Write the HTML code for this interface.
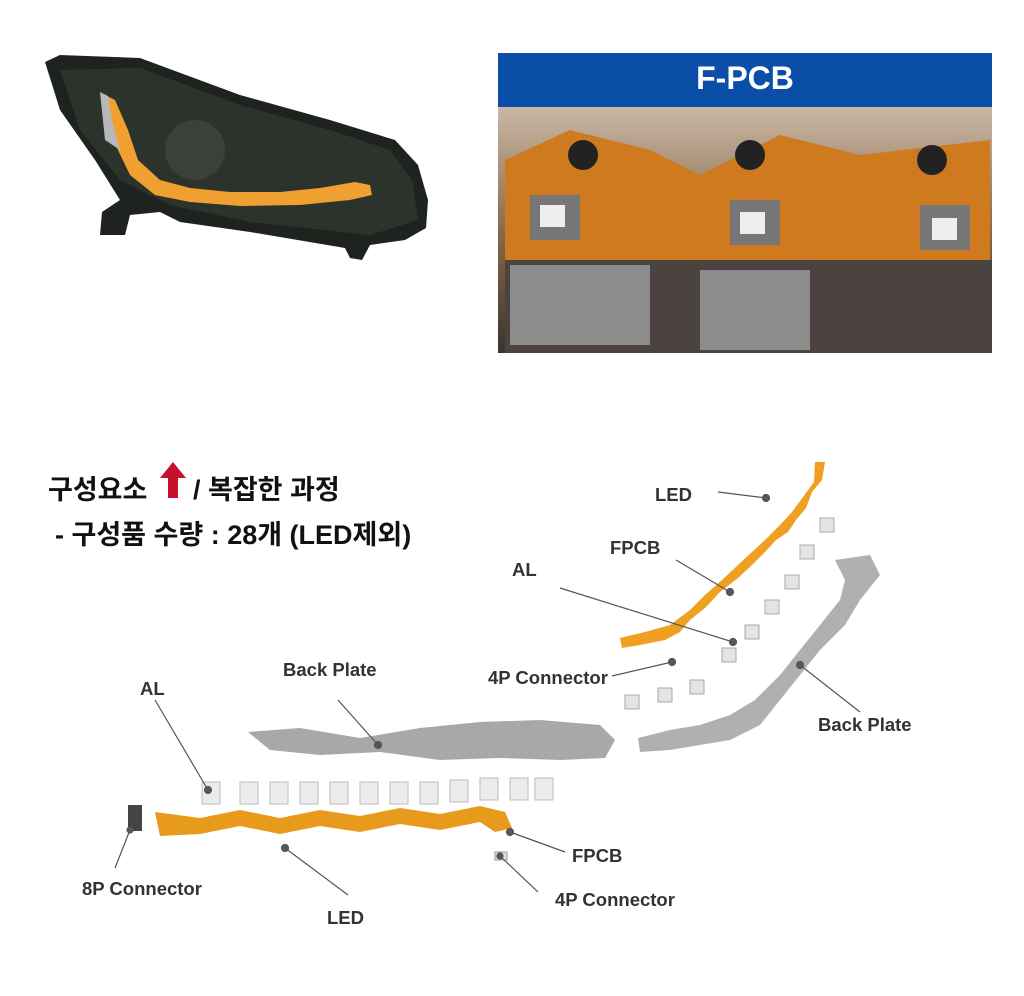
<!DOCTYPE html>
<html><head><meta charset="utf-8"><style>
html,body{margin:0;padding:0;background:#fff;}
body{width:1024px;height:996px;position:relative;overflow:hidden;font-family:"Liberation Sans","Noto Sans CJK KR",sans-serif;}
.t{position:absolute;font-weight:bold;color:#111;white-space:nowrap;}
.l{font-size:18.5px;color:#333;}
</style></head><body>
<svg width="1024" height="996" style="position:absolute;left:0;top:0">
<defs>
<linearGradient id="ph" x1="0" y1="0" x2="0" y2="1"><stop offset="0" stop-color="#c9b8a6"/><stop offset="0.5" stop-color="#8a6a4a"/><stop offset="1" stop-color="#3a3430"/></linearGradient>
</defs>
<path d="M45,62 L60,55 L140,58 L240,95 L330,120 L395,140 L418,165 L428,200 L426,228 L405,240 L370,245 L362,260 L350,258 L345,248 L250,232 L180,222 L160,212 L130,215 L125,235 L100,235 L102,212 L120,200 L95,160 L60,110 Z" fill="#1f231f"/>
<path d="M60,70 L140,68 L240,105 L330,130 L390,150 L412,180 L418,220 L370,235 L250,222 L170,205 L120,180 L80,130 Z" fill="#2c322c"/>
<circle cx="195" cy="150" r="30" fill="#3a403a"/>
<path d="M105,95 L115,100 L128,130 L138,160 L160,180 L190,188 L230,192 L280,192 L320,188 L355,182 L370,185 L372,195 L350,200 L300,205 L240,206 L190,202 L155,195 L130,175 L118,150 L108,120 Z" fill="#f0a030"/>
<path d="M100,92 L108,96 L112,120 L120,150 L105,140 Z" fill="#b8b8b8"/>
<rect x="498" y="53" width="494" height="54" fill="#0a4ea8"/>
<rect x="498" y="107" width="494" height="246" fill="url(#ph)"/>
<path d="M505,160 L570,130 L650,150 L700,175 L780,135 L860,155 L990,140 L990,260 L860,275 L780,280 L700,275 L620,270 L505,260 Z" fill="#d07a20"/>
<rect x="505" y="260" width="487" height="93" fill="#4a4340"/>
<rect x="510" y="265" width="140" height="80" fill="#8c8c8c"/>
<rect x="700" y="270" width="110" height="80" fill="#8c8c8c"/>
<rect x="530" y="195" width="50" height="45" fill="#777"/><rect x="540" y="205" width="25" height="22" fill="#eee"/>
<rect x="730" y="200" width="50" height="45" fill="#777"/><rect x="740" y="212" width="25" height="22" fill="#eee"/>
<rect x="920" y="205" width="50" height="45" fill="#777"/><rect x="932" y="218" width="25" height="22" fill="#eee"/>
<circle cx="583" cy="155" r="15" fill="#222"/><circle cx="750" cy="155" r="15" fill="#222"/><circle cx="932" cy="160" r="15" fill="#222"/>
<path d="M815,462 L825,462 L822,480 L812,492 L806,508 L796,520 L788,532 L776,540 L765,552 L752,565 L738,578 L720,592 L705,608 L690,620 L680,632 L665,640 L640,645 L622,648 L620,638 L645,632 L670,625 L690,610 L705,595 L722,580 L738,565 L752,552 L765,540 L780,525 L792,512 L803,497 L814,482 Z" fill="#f0a020"/>
<g fill="#e4e4e4" stroke="#aaa" stroke-width="1">
<rect x="820" y="518" width="14" height="14"/><rect x="800" y="545" width="14" height="14"/><rect x="785" y="575" width="14" height="14"/><rect x="765" y="600" width="14" height="14"/><rect x="745" y="625" width="14" height="14"/><rect x="722" y="648" width="14" height="14"/><rect x="690" y="680" width="14" height="14"/><rect x="658" y="688" width="14" height="14"/><rect x="625" y="695" width="14" height="14"/>
</g>
<path d="M835,560 L870,555 L880,575 L860,600 L845,625 L820,650 L800,675 L780,700 L760,725 L730,740 L700,745 L670,750 L640,752 L638,738 L670,730 L700,725 L730,715 L755,700 L780,675 L800,650 L820,625 L840,600 L845,580 Z" fill="#b0b0b0"/>
<path d="M248,732 L300,728 L360,738 L420,728 L480,722 L540,720 L600,725 L615,740 L605,758 L560,760 L500,758 L440,760 L380,752 L320,755 L270,750 Z" fill="#a8a8a8"/>
<g fill="#ececec" stroke="#bbb" stroke-width="1">
<rect x="202" y="782" width="18" height="22"/><rect x="240" y="782" width="18" height="22"/><rect x="270" y="782" width="18" height="22"/><rect x="300" y="782" width="18" height="22"/><rect x="330" y="782" width="18" height="22"/><rect x="360" y="782" width="18" height="22"/><rect x="390" y="782" width="18" height="22"/><rect x="420" y="782" width="18" height="22"/><rect x="450" y="780" width="18" height="22"/><rect x="480" y="778" width="18" height="22"/><rect x="510" y="778" width="18" height="22"/><rect x="535" y="778" width="18" height="22"/>
</g>
<path d="M155,812 L200,818 L240,810 L280,818 L320,810 L360,816 L400,808 L440,814 L480,806 L505,812 L512,828 L495,832 L480,822 L440,830 L400,824 L360,832 L320,826 L280,834 L240,826 L200,834 L160,836 Z" fill="#e89a1c"/>
<rect x="128" y="805" width="14" height="26" fill="#444"/>
<rect x="495" y="852" width="12" height="8" fill="#ddd" stroke="#999"/>
<g stroke="#555" stroke-width="1.2" fill="#556">
<line x1="718" y1="492" x2="766" y2="498"/><circle cx="766" cy="498" r="3.5"/>
<line x1="676" y1="560" x2="730" y2="592"/><circle cx="730" cy="592" r="3.5"/>
<line x1="560" y1="588" x2="733" y2="642"/><circle cx="733" cy="642" r="3.5"/>
<line x1="612" y1="676" x2="672" y2="662"/><circle cx="672" cy="662" r="3.5"/>
<line x1="860" y1="712" x2="800" y2="665"/><circle cx="800" cy="665" r="3.5"/>
<line x1="338" y1="700" x2="378" y2="745"/><circle cx="378" cy="745" r="3.5"/>
<line x1="155" y1="700" x2="208" y2="790"/><circle cx="208" cy="790" r="3.5"/>
<line x1="130" y1="830" x2="115" y2="868"/><circle cx="130" cy="830" r="3"/>
<line x1="285" y1="848" x2="348" y2="895"/><circle cx="285" cy="848" r="3.5"/>
<line x1="510" y1="832" x2="565" y2="852"/><circle cx="510" cy="832" r="3.5"/>
<line x1="500" y1="856" x2="538" y2="892"/><circle cx="500" cy="856" r="3"/>
</g>
<path d="M173,462 L186,478 L178,478 L178,498 L168,498 L168,478 L160,478 Z" fill="#c8102e"/>
</svg>
<div class="t" style="left:498px;top:60px;width:494px;text-align:center;color:#fff;font-size:32px;">F-PCB</div>
<div class="t" style="left:48px;top:468px;font-size:27px;">구성요소</div>
<div class="t" style="left:193px;top:468px;font-size:27px;">/ 복잡한 과정</div>
<div class="t" style="left:55px;top:513px;font-size:27px;">- 구성품 수량 : 28개 (LED제외)</div>
<div class="t l" style="left:655px;top:484px;">LED</div>
<div class="t l" style="left:610px;top:537px;">FPCB</div>
<div class="t l" style="left:512px;top:559px;">AL</div>
<div class="t l" style="left:488px;top:667px;">4P Connector</div>
<div class="t l" style="left:818px;top:714px;">Back Plate</div>
<div class="t l" style="left:283px;top:659px;">Back Plate</div>
<div class="t l" style="left:140px;top:678px;">AL</div>
<div class="t l" style="left:82px;top:878px;">8P Connector</div>
<div class="t l" style="left:327px;top:907px;">LED</div>
<div class="t l" style="left:572px;top:845px;">FPCB</div>
<div class="t l" style="left:555px;top:889px;">4P Connector</div>
</body></html>
